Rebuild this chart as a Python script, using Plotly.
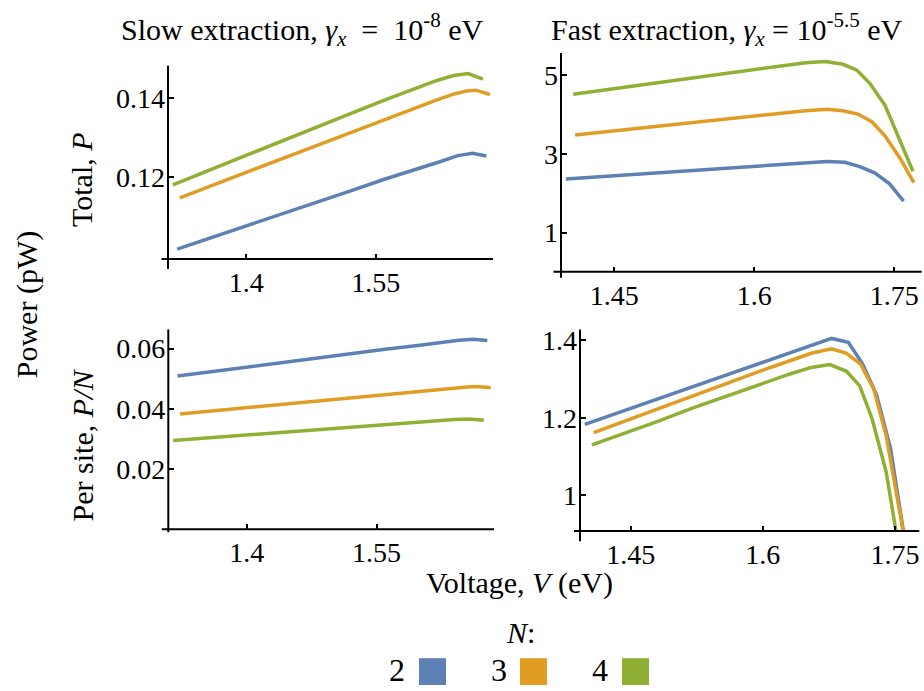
import plotly.graph_objects as go

W, H = 924, 691
FONT = "'Liberation Serif', 'Times New Roman', Times, 'DejaVu Serif', serif"

# ---- data -------------------------------------------------------------
n_values = [2, 3, 4]
colors = ["#5E81B5", "#E19C24", "#8FB032"]

# Slow extraction (gamma_x = 1e-8 eV): total power P (pW) vs voltage V (eV)
slow_v_n2 = [1.320, 1.36, 1.40, 1.44, 1.48, 1.52, 1.56, 1.60, 1.625, 1.645, 1.662, 1.678]
slow_total_n2 = [0.1018, 0.1047, 0.1077, 0.1106, 0.1136, 0.1165, 0.1195, 0.1222, 0.1240, 0.1255, 0.1261, 0.1254]
slow_v_n3 = [1.323, 1.36, 1.40, 1.44, 1.48, 1.52, 1.56, 1.60, 1.62, 1.64, 1.655, 1.666, 1.682]
slow_total_n3 = [0.1148, 0.1179, 0.1212, 0.1246, 0.1279, 0.1313, 0.1346, 0.1379, 0.1396, 0.1411, 0.1419, 0.1421, 0.1410]
slow_v_n4 = [1.315, 1.36, 1.40, 1.44, 1.48, 1.52, 1.56, 1.60, 1.62, 1.64, 1.657, 1.674]
slow_total_n4 = [0.1181, 0.1220, 0.1255, 0.1291, 0.1326, 0.1361, 0.1396, 0.1429, 0.1445, 0.1458, 0.1463, 0.1449]

# Slow extraction: power per site P/N
slow_site_n2 = [0.0509, 0.0524, 0.0539, 0.0553, 0.0568, 0.0583, 0.0598, 0.0611, 0.0620, 0.0628, 0.0631, 0.0627]
slow_site_n3 = [0.0383, 0.0393, 0.0404, 0.0415, 0.0426, 0.0438, 0.0449, 0.0460, 0.0465, 0.0470, 0.0473, 0.0474, 0.0470]
slow_site_n4 = [0.0295, 0.0305, 0.0314, 0.0323, 0.0332, 0.0340, 0.0349, 0.0357, 0.0361, 0.0365, 0.0366, 0.0362]

# Fast extraction (gamma_x = 10^-5.5 eV): total power P (pW)
fast_v_n2 = [1.398, 1.44, 1.48, 1.52, 1.56, 1.60, 1.635, 1.66, 1.678, 1.697, 1.713, 1.729, 1.745, 1.760]
fast_total_n2 = [2.366, 2.433, 2.497, 2.561, 2.625, 2.690, 2.745, 2.785, 2.810, 2.790, 2.680, 2.520, 2.240, 1.800]
fast_v_n3 = [1.408, 1.44, 1.48, 1.52, 1.56, 1.60, 1.63, 1.655, 1.678, 1.695, 1.711, 1.726, 1.740, 1.756, 1.771]
fast_total_n3 = [3.485, 3.566, 3.668, 3.770, 3.870, 3.970, 4.040, 4.100, 4.134, 4.100, 4.015, 3.820, 3.460, 2.900, 2.270]
fast_v_n4 = [1.406, 1.44, 1.48, 1.52, 1.56, 1.60, 1.63, 1.655, 1.676, 1.695, 1.710, 1.724, 1.740, 1.756, 1.770]
fast_total_n4 = [4.520, 4.630, 4.760, 4.900, 5.030, 5.160, 5.250, 5.320, 5.350, 5.280, 5.130, 4.790, 4.240, 3.360, 2.560]

# Fast extraction: power per site P/N
fast_site_n2 = [1.183, 1.2165, 1.2485, 1.2805, 1.3125, 1.345, 1.3725, 1.3925, 1.405, 1.395, 1.340, 1.260, 1.120, 0.900]
fast_site_n3 = [1.1617, 1.1887, 1.2227, 1.2567, 1.290, 1.3233, 1.3467, 1.3667, 1.378, 1.3667, 1.3383, 1.2733, 1.1533, 0.9667, 0.7567]
fast_site_n4 = [1.130, 1.1575, 1.190, 1.225, 1.2575, 1.290, 1.3125, 1.330, 1.3375, 1.320, 1.2825, 1.1975, 1.060, 0.840, 0.640]

# tick labels
slow_xticks = [1.4, 1.55]
slow_xticklabels = ["1.4", "1.55"]
fast_xticks = [1.45, 1.6, 1.75]
fast_xticklabels = ["1.45", "1.6", "1.75"]
slow_total_yticks = [0.12, 0.14]
slow_total_yticklabels = ["0.12", "0.14"]
fast_total_yticks = [1, 3, 5]
fast_total_yticklabels = ["1", "3", "5"]
slow_site_yticks = [0.02, 0.04, 0.06]
slow_site_yticklabels = ["0.02", "0.04", "0.06"]
fast_site_yticks = [1, 1.2, 1.4]
fast_site_yticklabels = ["1", "1.2", "1.4"]

# ---- layout helpers ---------------------------------------------------
def px_x(px):
    return px / W


def px_y(py):
    return 1 - py / H


# panel boxes in pixels: left (y-axis), right, top, bottom (x-axis)
panels = [
    dict(box=(168, 493, 62, 256.5), xr=[1.3094, 1.6857], yr=[0.09927, 0.14832],
         xt=(slow_xticks, slow_xticklabels), yt=(slow_total_yticks, slow_total_yticklabels),
         ext=(6.5, 10),
         series=[(slow_v_n2, slow_total_n2), (slow_v_n3, slow_total_n3), (slow_v_n4, slow_total_n4)]),
    dict(box=(561, 921.7, 49.3, 269.3), xr=[1.3929, 1.7794], yr=[0.0069, 5.566],
         xt=(fast_xticks, fast_xticklabels), yt=(fast_total_yticks, fast_total_yticklabels),
         ext=(7.5, 6),
         series=[(fast_v_n2, fast_total_n2), (fast_v_n3, fast_total_n3), (fast_v_n4, fast_total_n4)]),
    dict(box=(168.3, 494, 327.3, 528.3), xr=[1.3094, 1.6857], yr=[0.0, 0.0664],
         xt=(slow_xticks, slow_xticklabels), yt=(slow_site_yticks, slow_site_yticklabels),
         ext=(6.5, 3),
         series=[(slow_v_n2, slow_site_n2), (slow_v_n3, slow_site_n3), (slow_v_n4, slow_site_n4)]),
    dict(box=(580, 919.3, 327.3, 530), xr=[1.3925, 1.7776], yr=[0.9075, 1.4283],
         xt=(fast_xticks, fast_xticklabels), yt=(fast_site_yticks, fast_site_yticklabels),
         ext=(6, 10.5),
         series=[(fast_v_n2, fast_site_n2), (fast_v_n3, fast_site_n3), (fast_v_n4, fast_site_n4)]),
]

fig = go.Figure()
layout = dict(
    width=W, height=H,
    margin=dict(l=0, r=0, t=0, b=0),
    paper_bgcolor="white", plot_bgcolor="white",
    showlegend=False,
    font=dict(family=FONT, color="black", size=28),
)
shapes = []
annotations = []

tick_font = dict(family=FONT, size=28, color="black")

for i, p in enumerate(panels, start=1):
    left, right, top, bottom = p["box"]
    xname = "xaxis" if i == 1 else f"xaxis{i}"
    yname = "yaxis" if i == 1 else f"yaxis{i}"
    xref = "x" if i == 1 else f"x{i}"
    yref = "y" if i == 1 else f"y{i}"
    layout[xname] = dict(
        domain=[px_x(left), px_x(right)], range=p["xr"], anchor=yref,
        showgrid=False, zeroline=False, showline=False,
        ticks="inside", ticklen=5, tickwidth=2, tickcolor="black",
        tickvals=p["xt"][0], ticktext=p["xt"][1], tickfont=tick_font,
        ticklabelstandoff=4,
    )
    layout[yname] = dict(
        domain=[px_y(bottom), px_y(top)], range=p["yr"], anchor=xref,
        showgrid=False, zeroline=False, showline=False,
        ticks="inside", ticklen=6, tickwidth=2, tickcolor="black",
        tickvals=p["yt"][0], ticktext=p["yt"][1], tickfont=tick_font,
        ticklabelstandoff=2,
    )
    for (vx, vy), col, n in zip(p["series"], colors, n_values):
        fig.add_trace(go.Scatter(
            x=vx, y=vy, mode="lines", name=f"N = {n}",
            line=dict(color=col, width=3.5),
            xaxis=xref, yaxis=yref, hoverinfo="skip",
        ))
    xext, yext = p["ext"]
    # axis lines, each running a little past the crossing point
    shapes.append(dict(type="line", xref="paper", yref="paper",
                       x0=px_x(left), x1=px_x(left), y0=px_y(bottom + yext), y1=px_y(top),
                       line=dict(color="black", width=2)))
    shapes.append(dict(type="line", xref="paper", yref="paper",
                       x0=px_x(left - xext), x1=px_x(right), y0=px_y(bottom), y1=px_y(bottom),
                       line=dict(color="black", width=2)))


def text(x, y, s, angle=0, size=30):
    annotations.append(dict(
        x=px_x(x), y=px_y(y), xref="paper", yref="paper", text=s, showarrow=False,
        textangle=angle, xanchor="center", yanchor="middle",
        font=dict(family=FONT, size=size, color="black"),
    ))


nb = "\u00a0"
text(302, 26, f"Slow extraction, <i>γ<sub>x</sub></i>{nb}{nb}={nb}{nb}10<sup>-8</sup> eV")
text(727, 26, "Fast extraction, <i>γ<sub>x</sub></i> = 10<sup>-5.5</sup> eV")
text(82, 177, "Total, <i>P</i>", angle=-90)
text(82, 444, "Per site, <i>P/N</i>", angle=-90)
text(27, 303, "Power (pW)", angle=-90)
text(519, 582, "Voltage, <i>V</i> (eV)")

# legend: label above, then "digit + colour square" entries
text(520, 632, "<i>N</i>:")
legend_digit_x = [397, 499, 600]
legend_box_x = [419, 520, 622]
for n, col, dx, bx in zip(n_values, colors, legend_digit_x, legend_box_x):
    text(dx, 670, str(n), size=32)
    shapes.append(dict(type="rect", xref="paper", yref="paper",
                       x0=px_x(bx), x1=px_x(bx + 27), y0=px_y(685), y1=px_y(658),
                       fillcolor=col, line=dict(width=0)))

layout["shapes"] = shapes
layout["annotations"] = annotations
fig.update_layout(**layout)
fig.write_html("out.html")
